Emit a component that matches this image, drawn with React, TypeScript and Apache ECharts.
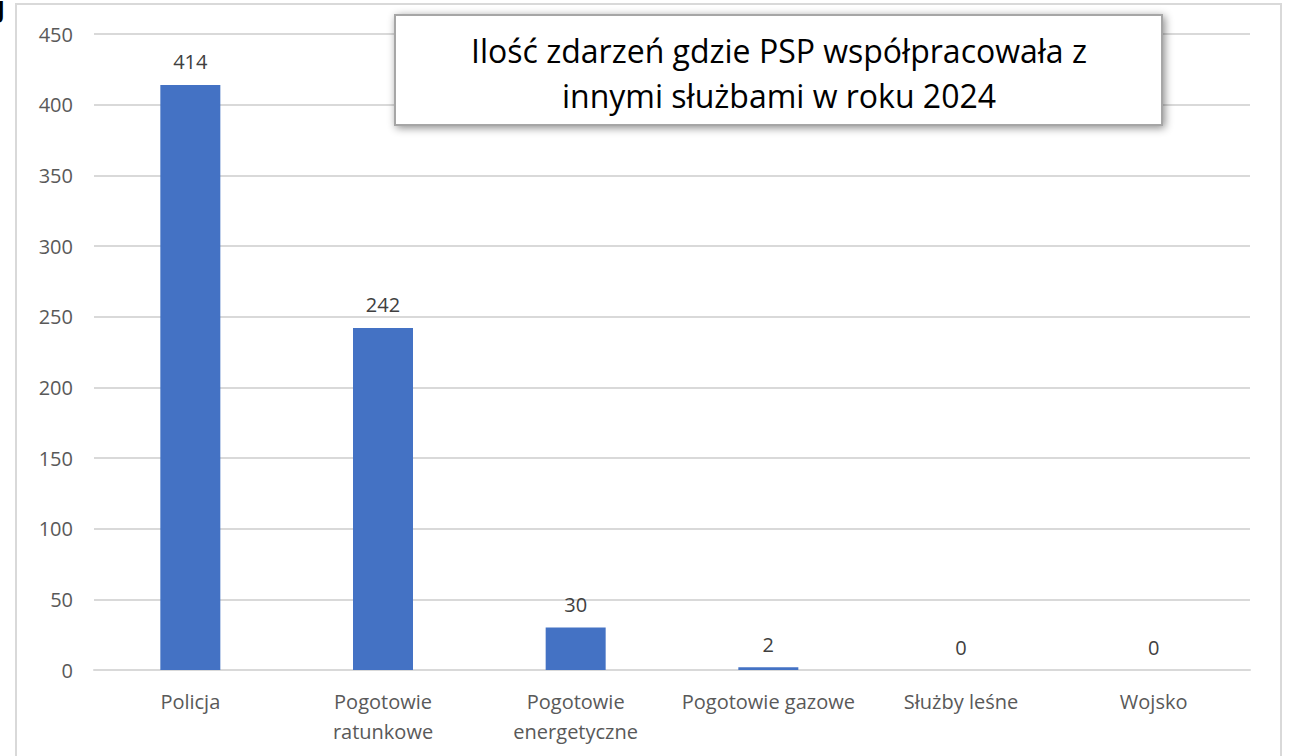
import React, { useEffect, useRef } from "react";
import * as echarts from "echarts";

const categories = [
  "Policja",
  "Pogotowie\nratunkowe",
  "Pogotowie\nenergetyczne",
  "Pogotowie gazowe",
  "Służby leśne",
  "Wojsko",
];
const values = [414, 242, 30, 2, 0, 0];
const titleLines = ["Ilość zdarzeń gdzie PSP współpracowała z", "innymi służbami w roku 2024"];

export default function App() {
  const ref = useRef<HTMLDivElement>(null);
  useEffect(() => {
    if (!ref.current) return;
    const chart = echarts.init(ref.current, null, { renderer: "svg" });
    const font = "'Open Sans', 'Noto Sans', sans-serif";
    chart.setOption({
      animation: false,
      backgroundColor: "#ffffff",
      grid: { left: 94, right: 39, top: 34, bottom: 86, containLabel: false },
      xAxis: {
        type: "category",
        data: categories,
        axisLine: { show: true, lineStyle: { color: "#d9d9d9", width: 2 } },
        axisTick: { show: false },
        axisLabel: {
          color: "#595959",
          fontSize: 20,
          fontFamily: font,
          margin: 16,
          lineHeight: 30,
          interval: 0,
        },
      },
      yAxis: {
        type: "value",
        min: 0,
        max: 450,
        interval: 50,
        axisLine: { show: false },
        axisTick: { show: false },
        axisLabel: { color: "#595959", fontSize: 20, fontFamily: font, margin: 21 },
        splitLine: { lineStyle: { color: "#d9d9d9", width: 2 } },
      },
      series: [
        {
          type: "bar",
          data: values,
          barWidth: 60,
          itemStyle: { color: "#4472c4" },
          label: {
            show: true,
            position: "top",
            distance: 13,
            color: "#404040",
            fontSize: 20,
            fontFamily: font,
          },
        },
      ],
      graphic: [
        {
          type: "rect",
          shape: { x: 16, y: 4, width: 1265, height: 800 },
          style: { fill: "none", stroke: "#d9d9d9", lineWidth: 2 },
          z: 10,
        },
        {
          type: "text",
          x: -3,
          y: -4,
          style: { text: "J", fill: "#000000", fontSize: 24, fontWeight: "bold", fontFamily: font },
          z: 10,
        },
        {
          type: "rect",
          shape: { x: 395, y: 15, width: 767, height: 110 },
          style: {
            fill: "#ffffff",
            stroke: "#a6a6a6",
            lineWidth: 2,
            shadowBlur: 8,
            shadowColor: "rgba(0,0,0,0.45)",
            shadowOffsetX: 2,
            shadowOffsetY: 2,
          },
          z: 20,
        },
        {
          type: "text",
          x: 779,
          y: 50,
          style: {
            text: titleLines[0],
            fill: "#000000",
            fontSize: 32,
            fontFamily: font,
            textAlign: "center",
            textVerticalAlign: "middle",
          },
          z: 21,
        },
        {
          type: "text",
          x: 779,
          y: 95,
          style: {
            text: titleLines[1],
            fill: "#000000",
            fontSize: 32,
            fontFamily: font,
            textAlign: "center",
            textVerticalAlign: "middle",
          },
          z: 21,
        },
      ],
    });
    return () => chart.dispose();
  }, []);
  return (
    <div
      ref={ref}
      style={{ position: "absolute", left: 0, top: 0, width: 1289, height: 756 }}
    />
  );
}
